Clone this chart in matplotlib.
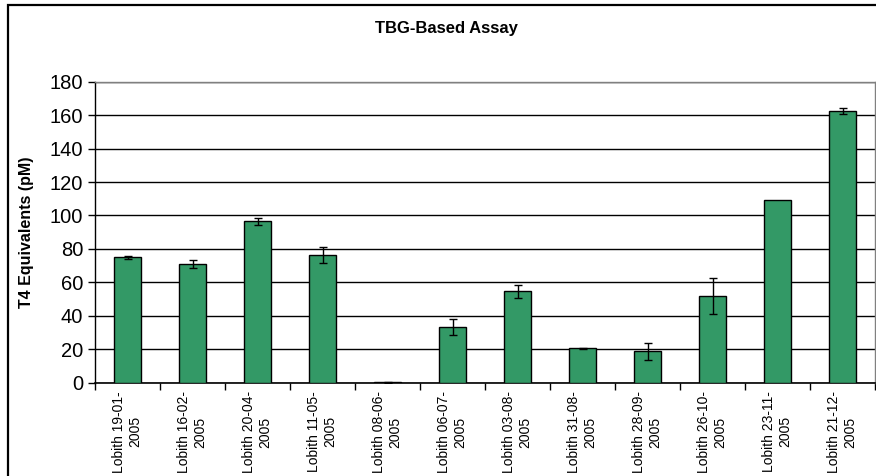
import numpy as np
import matplotlib
matplotlib.use("Agg")
import matplotlib.pyplot as plt
from matplotlib.patches import Rectangle

plt.rcParams['font.family'] = ['Liberation Sans', 'DejaVu Sans']

# data
samples = ["Lobith 19-01-\n2005", "Lobith 16-02-\n2005", "Lobith 20-04-\n2005",
           "Lobith 11-05-\n2005", "Lobith 08-06-\n2005", "Lobith 06-07-\n2005",
           "Lobith 03-08-\n2005", "Lobith 31-08-\n2005", "Lobith 28-09-\n2005",
           "Lobith 26-10-\n2005", "Lobith 23-11-\n2005", "Lobith 21-12-\n2005"]
t4_eq = [74.9, 70.8, 96.5, 76.3, 0.2, 33.3, 54.6, 20.5, 18.7, 52.0, 109.0, 162.4]
t4_err = [1.0, 2.3, 2.0, 5.0, 0.4, 5.0, 4.0, 0.5, 5.3, 10.7, 0.0, 2.0]
y_ticks = [0, 20, 40, 60, 80, 100, 120, 140, 160, 180]

fig = plt.figure(figsize=(8.76, 4.76), dpi=100)
ax = fig.add_axes([95 / 876, 1 - 382.7 / 476, 780 / 876, 301 / 476])

x = np.arange(len(samples))
ax.bar(x, t4_eq, width=0.41, color="#339966", edgecolor="black", linewidth=1.0, zorder=3)
err_x = [xi for xi, e in zip(x, t4_err) if e > 0]
err_y = [v for v, e in zip(t4_eq, t4_err) if e > 0]
err_e = [e for e in t4_err if e > 0]
ax.errorbar(err_x, err_y, yerr=err_e, fmt="none", ecolor="black",
            elinewidth=1.0, capsize=2.6, capthick=1.0, zorder=4)

ax.set_xlim(-0.5, len(samples) - 0.5)
ax.set_ylim(0, 180)
ax.set_yticks(y_ticks)
ax.set_yticklabels([str(v) for v in y_ticks], fontsize=14.5)
ax.yaxis.grid(True, color="black", linewidth=1.0, zorder=0)
ax.set_axisbelow(True)

# category ticks sit between bars, labels centred under bars
ax.set_xticks(np.arange(-0.5, len(samples), 1.0))
ax.set_xticklabels([])
ax.set_xticks(x, minor=True)
ax.set_xticklabels(samples, minor=True, rotation=90, fontsize=10,
                   va="top", ha="center", multialignment="center")
ax.tick_params(axis="x", which="minor", length=0, pad=6)
ax.tick_params(axis="x", which="major", length=5, width=1, direction="out")
ax.tick_params(axis="y", length=5, width=1, direction="out")

for side in ["top", "right"]:
    ax.spines[side].set_color("#808080")
    ax.spines[side].set_linewidth(1.0)
ax.spines["left"].set_linewidth(1.0)
ax.spines["bottom"].set_linewidth(1.2)

ax.set_ylabel("T4 Equivalents (pM)", fontsize=11.5, fontweight="bold")
ax.yaxis.set_label_coords(-61 / 780, 0.5)

fig.text(446 / 876, 1 - 29 / 476, "TBG-Based Assay", fontsize=12, fontweight="bold",
         ha="center", va="center")

# chart area border (right/bottom fall outside the image)
fig.patches.append(Rectangle((8 / 876, -0.1), 1.2, 1 - 5 / 476 + 0.1,
                             transform=fig.transFigure, fill=False,
                             edgecolor="black", linewidth=1.6))

fig.savefig("out.png", dpi=100)
